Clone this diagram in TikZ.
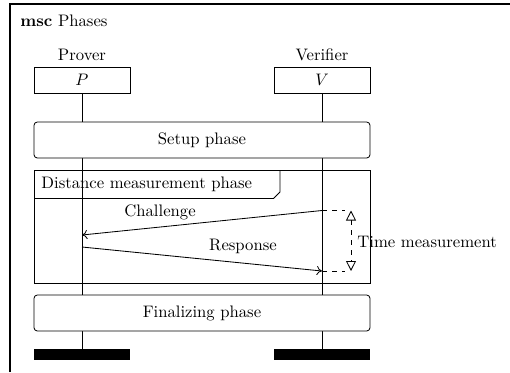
\documentclass[tikz,border=0pt]{standalone}
\usetikzlibrary{arrows.meta}
\begin{document}
\begin{tikzpicture}[x=0.6pt,y=-0.6pt, line width=0.5pt,
  inst/.style={draw, minimum width=57.6pt, minimum height=15.6pt, inner sep=0pt},
  phasebox/.style={draw, rounded corners=2pt, fill=white, minimum width=201.6pt, minimum height=21.6pt, inner sep=0pt},
  endbar/.style={fill=black, minimum width=57.6pt, minimum height=6.3pt, inner sep=0pt},
  msg/.style={-{To[length=3.2pt,width=5.5pt]}},
  txt/.style={inner sep=0pt}]
\useasboundingbox (0,0) rectangle (510,372);
% frame
\coordinate (fbl) at (10,372);
\coordinate (ftl) at (10,4);
\coordinate (ftr) at (510,4);
\draw[line width=0.8pt] (fbl) -- (ftl) -- (ftr);
\node[txt, anchor=west] (title) at (20,21) {\textbf{msc} Phases};
% instances
\node[txt] (Pname) at (82,55) {Prover};
\node[txt] (Vname) at (322,55) {Verifier};
\node[inst] (P) at (82,80) {$P$};
\node[inst] (V) at (322,80) {$V$};
\node[endbar] (Pend) at (82,354.5) {};
\node[endbar] (Vend) at (322,354.5) {};
\draw (P.south) -- (Pend.north);
\draw (V.south) -- (Vend.north);
% setup phase
\node[phasebox] (setup) at (202,140) {Setup phase};
% distance measurement phase
\node[draw, minimum width=201.6pt, minimum height=67.8pt, inner sep=0pt] (dist) at (202,226.5) {};
\coordinate (tabA) at (34,198.5);
\coordinate (tabB) at (273.5,198.5);
\coordinate (tabC) at (280,192);
\coordinate (tabD) at (280,170);
\draw (tabA) -- (tabB) -- (tabC) -- (tabD);
\node[txt, anchor=west] (dlabel) at (41,184) {Distance measurement phase};
% messages
\coordinate (cS) at (322,210.5);
\coordinate (cE) at (82,235);
\coordinate (rS) at (82,247);
\coordinate (rE) at (322,271);
\draw[msg] (cS) -- (cE);
\draw[msg] (rS) -- (rE);
\node[txt] (clabel) at (160,212) {Challenge};
\node[txt] (rlabel) at (243,246) {Response};
% time measurement
\coordinate (t1) at (345,210.5);
\coordinate (t2) at (345,271);
\coordinate (tm1) at (351,210.5);
\coordinate (tm2) at (351,271);
\draw[dashed] (cS) -- (t1);
\draw[dashed] (rE) -- (t2);
\draw[dashed, {Triangle[open,length=6pt,width=6pt]}-{Triangle[open,length=6pt,width=6pt]}] (tm1) -- (tm2);
\node[txt, anchor=west] (tlabel) at (357,242) {Time measurement};
% finalizing phase
\node[phasebox] (final) at (202,313) {Finalizing phase};
\end{tikzpicture}
\end{document}
